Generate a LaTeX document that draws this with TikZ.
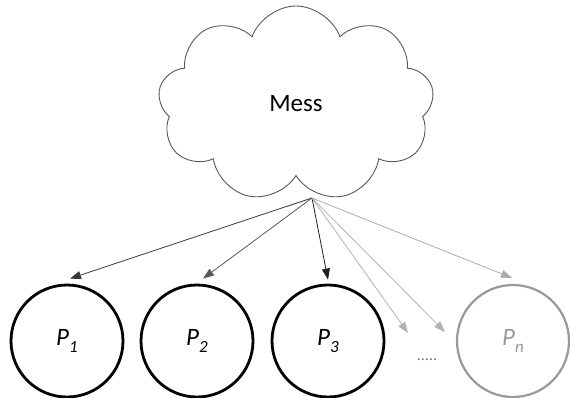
\documentclass[tikz,border=0pt]{standalone}
\usepackage{fontspec}
\setmainfont{Carlito}
\usetikzlibrary{shapes.symbols,arrows.meta}
\begin{document}
\begin{tikzpicture}[x=1pt,y=1pt,
  proc/.style={circle,draw=black,line width=2.8pt,minimum size=112pt,inner sep=0pt,font=\fontsize{25}{25}\selectfont\itshape},
  link/.style={line width=0.8pt,-{Triangle[length=11pt,width=8pt]}}]
\useasboundingbox (0,0) rectangle (570,397);
\node[cloud,cloud puffs=9,cloud puff arc=140,aspect=1.4,draw=black!65,line width=0.9pt,
  minimum width=276pt,minimum height=196pt,font=\fontsize{25}{25}\selectfont] (mess) at (296,293) {Mess};
\coordinate (o) at (312,199);
\node[proc] (p1) at (67,56) {P\raisebox{-0.3em}{\fontsize{17}{17}\selectfont 1}};
\node[proc] (p2) at (197,56) {P\raisebox{-0.3em}{\fontsize{17}{17}\selectfont 2}};
\node[proc] (p3) at (328,56) {P\raisebox{-0.3em}{\fontsize{17}{17}\selectfont 3}};
\node[proc,draw=black!40,text=black!40,line width=2.2pt] (pn) at (513,56) {P\raisebox{-0.3em}{\fontsize{17}{17}\selectfont n}};
\node[text=black!55,font=\fontsize{16}{16}\selectfont] (dots) at (427,37) {.....};
\coordinate (d1) at (408,64);
\coordinate (d2) at (445,65);
\draw[link,draw=black!78] (o) -- ([xshift=3pt,yshift=5pt]p1.north);
\draw[link,draw=black!65] (o) -- ([xshift=6pt,yshift=5pt]p2.north);
\draw[link,draw=black!88] (o) -- ([yshift=4pt]p3.north);
\draw[link,draw=black!30] (o) -- (d1);
\draw[link,draw=black!30] (o) -- (d2);
\draw[link,draw=black!33] (o) -- ([xshift=-1pt,yshift=6pt]pn.north);
\end{tikzpicture}
\end{document}
